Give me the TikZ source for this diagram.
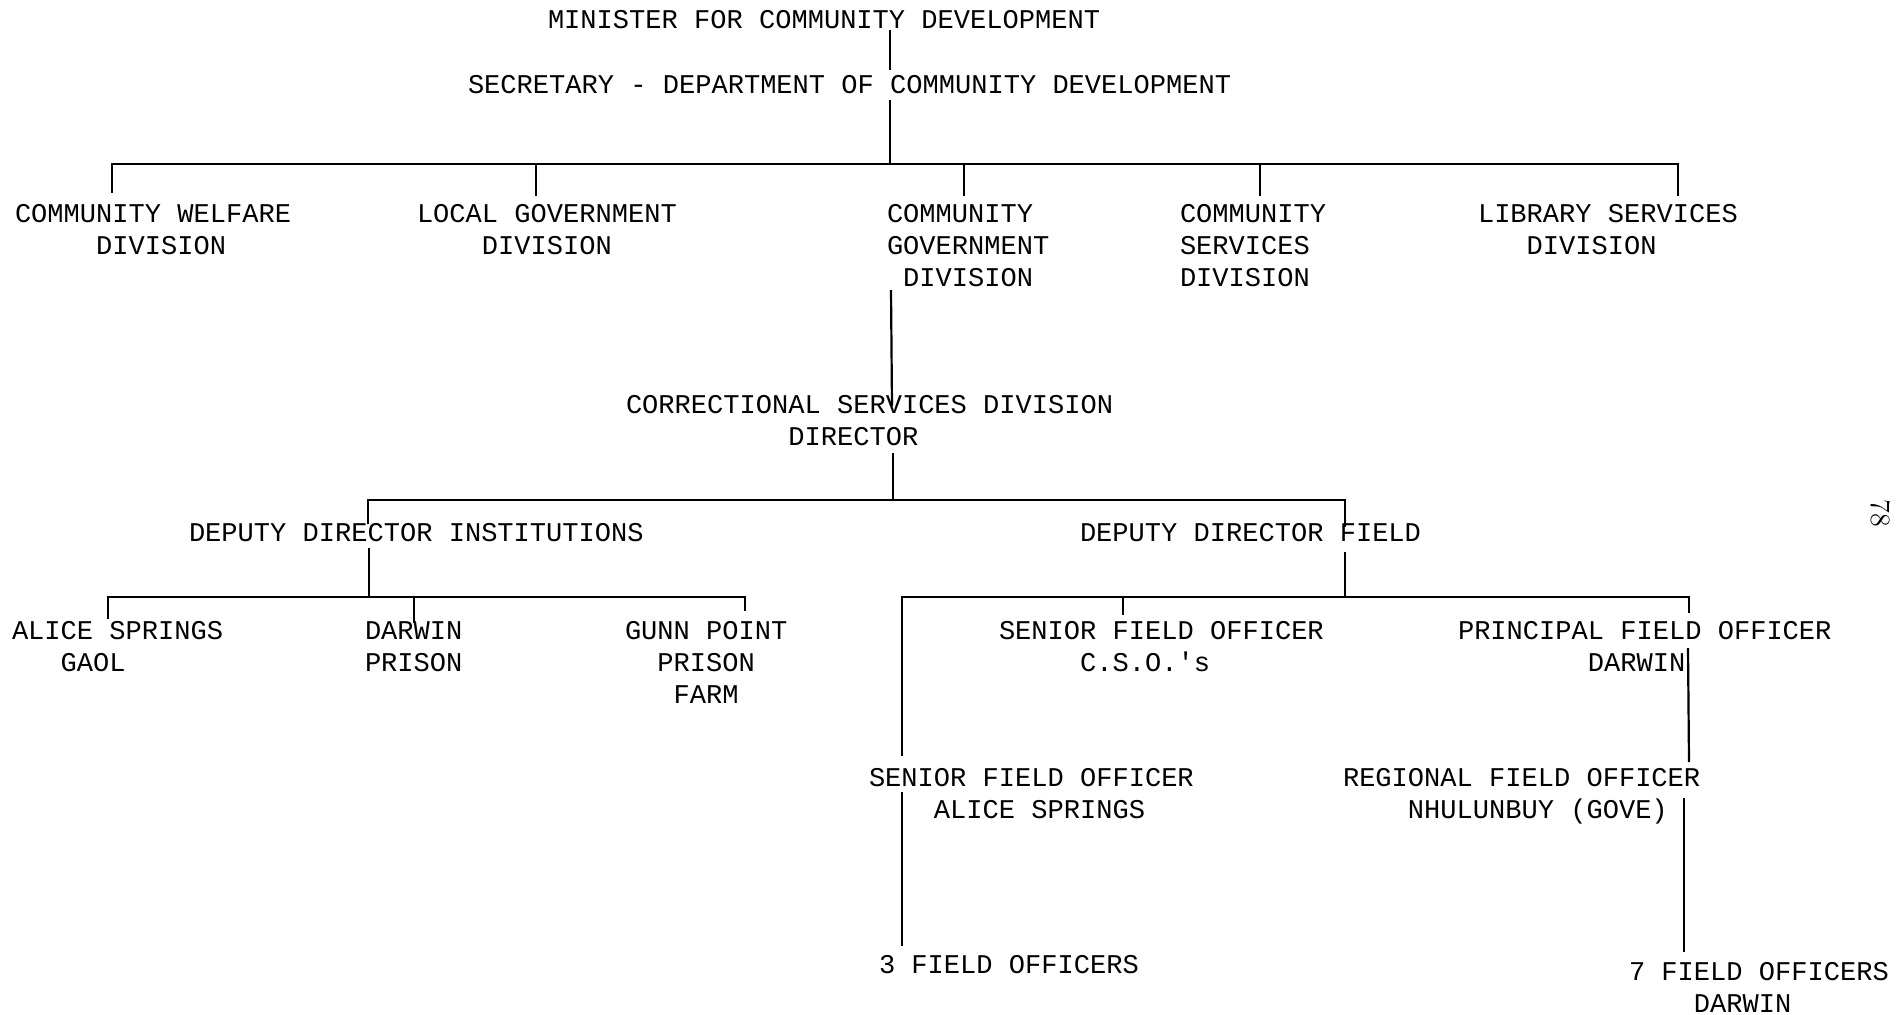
\documentclass[tikz,border=0pt]{standalone}
\usepackage{fontspec}
\setmonofont{Liberation Mono}
\newcommand\tw{\ttfamily\fontsize{13.53pt}{16pt}\selectfont}
\newcommand\ind[1]{\hspace*{#1\dimexpr 0.6em\relax}}
\newcommand\ml[1]{\begin{tabular}[t]{@{}l@{}}#1\end{tabular}}
\begin{document}
\begin{tikzpicture}[x=0.5pt,y=-0.5pt,
  lbl/.style={anchor=base west,inner sep=0pt,outer sep=0pt,font=\tw},
  ln/.style={line width=1.1pt}]
\useasboundingbox (0,0) rectangle (1896,1014);
% ---- texts
\node[lbl] (min) at (548,28) {MINISTER FOR COMMUNITY DEVELOPMENT};
\node[lbl] (sec) at (468,93) {SECRETARY - DEPARTMENT OF COMMUNITY DEVELOPMENT};
\node[lbl] (cwd) at (15,222) {\ml{COMMUNITY WELFARE\\\ind{5}DIVISION}};
\node[lbl] (lgd) at (417,222) {\ml{LOCAL GOVERNMENT\\\ind{4}DIVISION}};
\node[lbl] (cgd) at (887,222) {\ml{COMMUNITY\\GOVERNMENT\\\ind{1}DIVISION}};
\node[lbl] (csd) at (1180,222) {\ml{COMMUNITY\\SERVICES\\DIVISION}};
\node[lbl] (lsd) at (1478,222) {\ml{LIBRARY SERVICES\\\ind{3}DIVISION}};
\node[lbl] (corr) at (626,413) {\ml{CORRECTIONAL SERVICES DIVISION\\\ind{10}DIRECTOR}};
\node[lbl] (ddi) at (189,541) {DEPUTY DIRECTOR INSTITUTIONS};
\node[lbl] (ddf) at (1080,541) {DEPUTY DIRECTOR FIELD};
\node[lbl] (asg) at (12,639) {\ml{ALICE SPRINGS\\\ind{3}GAOL}};
\node[lbl] (dp) at (365,639) {\ml{DARWIN\\PRISON}};
\node[lbl] (gpf) at (625,639) {\ml{GUNN POINT\\\ind{2}PRISON\\\ind{3}FARM}};
\node[lbl] (sfo1) at (999,639) {\ml{SENIOR FIELD OFFICER\\\ind{5}C.S.O.'s}};
\node[lbl] (pfo) at (1458,639) {\ml{PRINCIPAL FIELD OFFICER\\\ind{8}DARWIN}};
\node[lbl] (sfo2) at (869,786) {\ml{SENIOR FIELD OFFICER\\\ind{4}ALICE SPRINGS}};
\node[lbl] (rfo) at (1343,786) {\ml{REGIONAL FIELD OFFICER\\\ind{4}NHULUNBUY (GOVE)}};
\node[lbl] (fo3) at (879,973) {3 FIELD OFFICERS};
\node[lbl] (fo7) at (1629,980) {\ml{7 FIELD OFFICERS\\\ind{4}DARWIN}};
\node[rotate=-90,inner sep=0pt,font=\fontsize{14pt}{16pt}\selectfont] (pg) at (1881,513) {78};
% ---- junction coordinates
\coordinate (a1) at (890,30);   \coordinate (a2) at (890,70);
\coordinate (b1) at (890,100);  \coordinate (b2) at (890,164);
\coordinate (t1) at (112,193);  \coordinate (t1b) at (112,164);
\coordinate (t5) at (1678,196); \coordinate (t5b) at (1678,164);
\coordinate (t2) at (536,196);  \coordinate (t2b) at (536,164);
\coordinate (t3) at (964,196);  \coordinate (t3b) at (964,164);
\coordinate (t4) at (1260,196); \coordinate (t4b) at (1260,164);
\coordinate (c1) at (891,290);  \coordinate (c2) at (892,406);
\coordinate (d1) at (893,453);  \coordinate (d2) at (893,500);
\coordinate (e1) at (368,524);  \coordinate (e1b) at (368,500);
\coordinate (e2) at (1345,527); \coordinate (e2b) at (1345,500);
\coordinate (f1) at (369,548);  \coordinate (f2) at (369,597);
\coordinate (g1) at (108,619);  \coordinate (g1b) at (108,597);
\coordinate (g3) at (745,611);  \coordinate (g3b) at (745,597);
\coordinate (g2) at (414,623);  \coordinate (g2b) at (414,597);
\coordinate (h1) at (1345,552); \coordinate (h2) at (1345,597);
\coordinate (k1) at (902,756);  \coordinate (k1b) at (902,597);
\coordinate (k3) at (1689,613); \coordinate (k3b) at (1689,597);
\coordinate (k2) at (1123,615); \coordinate (k2b) at (1123,597);
\coordinate (m1) at (902,792);  \coordinate (m2) at (902,946);
\coordinate (p1) at (1688,648); \coordinate (p2) at (1689,762);
\coordinate (r1) at (1684,798); \coordinate (r2) at (1684,952);
% ---- connectors
\draw[ln] (a1) -- (a2);
\draw[ln] (b1) -- (b2);
\draw[ln] (t1) -- (t1b) -- (t5b) -- (t5);
\draw[ln] (t2b) -- (t2);
\draw[ln] (t3b) -- (t3);
\draw[ln] (t4b) -- (t4);
\draw[ln] (c1) -- (c2);
\draw[ln] (d1) -- (d2);
\draw[ln] (e1) -- (e1b) -- (e2b) -- (e2);
\draw[ln] (f1) -- (f2);
\draw[ln] (g1) -- (g1b) -- (g3b) -- (g3);
\draw[ln] (g2b) -- (g2);
\draw[ln] (h1) -- (h2);
\draw[ln] (k1) -- (k1b) -- (k3b) -- (k3);
\draw[ln] (k2b) -- (k2);
\draw[ln] (m1) -- (m2);
\draw[ln] (p1) -- (p2);
\draw[ln] (r1) -- (r2);
\end{tikzpicture}
\end{document}
